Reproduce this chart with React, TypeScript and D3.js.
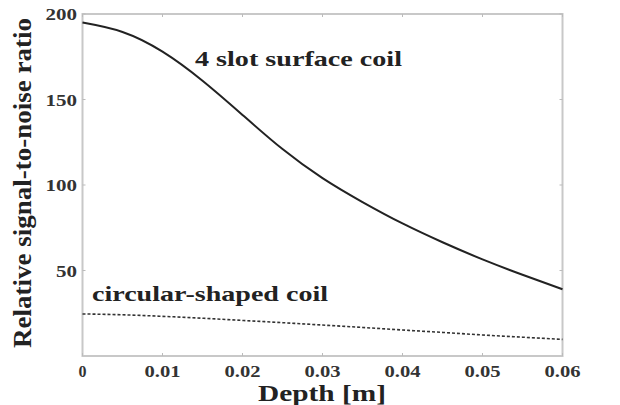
import React from 'react';
import * as d3 from 'd3';

// depth in metres
const depths = [0, 0.005, 0.01, 0.015, 0.02, 0.025, 0.03, 0.035, 0.04, 0.045, 0.05, 0.055, 0.06];
const slotCoil = [195, 189.5, 178, 161, 141, 121, 104, 90, 77.5, 66.5, 56.5, 47.5, 39];
const circularCoil = [24.6, 24.1, 23.2, 22.1, 20.8, 19.5, 18.1, 16.7, 15.2, 13.8, 12.3, 11.0, 9.7];

const xTicks = [0, 0.01, 0.02, 0.03, 0.04, 0.05, 0.06];
const xTickLabels = ['0', '0.01', '0.02', '0.03', '0.04', '0.05', '0.06'];
const yTicks = [50, 100, 150, 200];

const width = 620;
const height = 405;
const margin = { top: 14, right: 57.5, bottom: 49, left: 82.5 };
const font = 'Liberation Serif, Tinos, Times New Roman, Nimbus Roman, FreeSerif, serif';

const App: React.FC = () => {
  const x = d3.scaleLinear().domain([0, 0.06]).range([margin.left, width - margin.right]);
  const y = d3.scaleLinear().domain([0, 200]).range([height - margin.bottom, margin.top]);

  const line = d3.line<number>()
    .x((_d, i) => x(depths[i]))
    .y(d => y(d))
    .curve(d3.curveNatural);

  const [x0, x1] = x.range();
  const [yb, yt] = y.range();
  const tickLen = 3;

  return (
    <svg
      width={width}
      height={height}
      style={{ position: 'absolute', left: 0, top: 0, background: '#fff', fontFamily: font, fontWeight: 'bold' }}
    >
      {/* frame */}
      <rect x={x0} y={yt} width={x1 - x0} height={yb - yt} fill="none" stroke="#c8c8c8" strokeWidth={2} />

      {/* x ticks, bottom and top */}
      {xTicks.map((t, i) => (
        <g key={'xt' + i}>
          <line x1={x(t)} x2={x(t)} y1={yb} y2={yb - tickLen} stroke="#bbb" strokeWidth={1} />
          <line x1={x(t)} x2={x(t)} y1={yt} y2={yt + tickLen} stroke="#bbb" strokeWidth={1} />
          <text
            x={x(t)}
            y={377}
            textAnchor="middle"
            fontSize={16}
            fill="#333"
            textLength={xTickLabels[i].length > 1 ? 36 : undefined}
            lengthAdjust="spacingAndGlyphs"
          >
            {xTickLabels[i]}
          </text>
        </g>
      ))}

      {/* y ticks, left and right */}
      {yTicks.map((t, i) => (
        <g key={'yt' + i}>
          <line x1={x0} x2={x0 + tickLen} y1={y(t)} y2={y(t)} stroke="#bbb" strokeWidth={1} />
          <line x1={x1} x2={x1 - tickLen} y1={y(t)} y2={y(t)} stroke="#bbb" strokeWidth={1} />
          <text
            x={77}
            y={y(t) + 6}
            textAnchor="end"
            fontSize={16}
            fill="#333"
            textLength={String(t).length * 10.5}
            lengthAdjust="spacingAndGlyphs"
          >
            {t}
          </text>
        </g>
      ))}

      {/* series */}
      <path d={line(slotCoil) ?? ''} fill="none" stroke="#222" strokeWidth={2} />
      <path d={line(circularCoil) ?? ''} fill="none" stroke="#333" strokeWidth={1.6} strokeDasharray="3,2" />

      {/* annotations */}
      <text x={195} y={66} fontSize={22} fill="#222" textLength={207} lengthAdjust="spacingAndGlyphs">
        4 slot surface coil
      </text>
      <text x={92} y={301} fontSize={22} fill="#222" textLength={236} lengthAdjust="spacingAndGlyphs">
        circular-shaped coil
      </text>

      {/* axis titles */}
      <text x={322} y={401} textAnchor="middle" fontSize={24} fill="#222"
        textLength={128} lengthAdjust="spacingAndGlyphs">
        Depth [m]
      </text>
      <text
        transform={`translate(31,${183}) rotate(-90)`}
        textAnchor="middle"
        fontSize={25}
        fill="#222"
        textLength={330}
        lengthAdjust="spacingAndGlyphs"
      >
        Relative signal-to-noise ratio
      </text>
    </svg>
  );
};

export default App;
